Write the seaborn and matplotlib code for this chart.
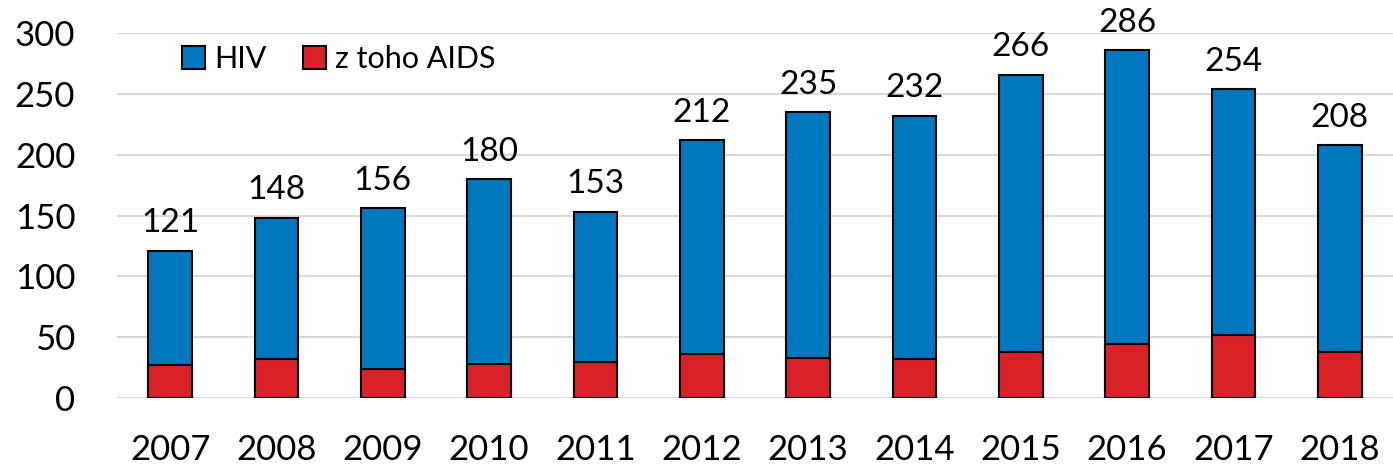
"""HIV a AIDS podle roku"""

import seaborn as sns
import pandas as pd
import matplotlib.pyplot as plt
from matplotlib.patches import Patch

YEARS = [str(y) for y in range(2007, 2019)]
HIV = [121, 148, 156, 180, 153, 212, 235, 232, 266, 286, 254, 208]
AIDS = [27, 32, 24, 28, 29, 36, 33, 32, 38, 44, 52, 38]
C_HIV = "#0078BF"
C_AIDS = "#DA2128"

sns.set_style("white")
plt.rcParams['font.family'] = ['Lato', 'DejaVu Sans']
plt.rcParams['text.color'] = "black"
plt.rcParams['xtick.color'] = "black"
plt.rcParams['ytick.color'] = "black"

df = pd.DataFrame({"year": YEARS, "hiv": HIV, "aids": AIDS})

fig = plt.figure(figsize=(13.93, 4.69), dpi=100)
ax = fig.add_axes([0.084, 0.152, 0.916, 0.777])

sns.barplot(data=df, x="year", y="hiv", color=C_HIV, width=0.41,
            edgecolor="black", linewidth=1.5, saturation=1, ax=ax, zorder=3)
sns.barplot(data=df, x="year", y="aids", color=C_AIDS, width=0.41,
            edgecolor="black", linewidth=1.5, saturation=1, ax=ax, zorder=3)

for i, v in enumerate(HIV):
    ax.annotate(str(v), (i, v), xytext=(0, 9), textcoords="offset points",
                ha="center", va="bottom", fontsize=24, color="black")

ax.set_ylim(0, 300)
ax.set_xlim(-0.5, 11.5)
ax.set_yticks(range(0, 301, 50))
ax.yaxis.grid(True, color="#D9D9D9", lw=1.5, zorder=0)
ax.set_axisbelow(True)
ax.tick_params(axis="y", labelsize=25, length=0, pad=30)
ax.tick_params(axis="x", labelsize=25, length=0, pad=26)
ax.set_xlabel("")
ax.set_ylabel("")
sns.despine(ax=ax, left=True, bottom=True)

handles = [Patch(facecolor=C_HIV, edgecolor="black", lw=1.5),
           Patch(facecolor=C_AIDS, edgecolor="black", lw=1.5)]
fig.legend(handles=handles, labels=["HIV", "z toho AIDS"], ncol=2,
           frameon=False, fontsize=22, loc="upper left",
           bbox_to_anchor=(0.122, 0.93), handlelength=0.75, handleheight=0.75,
           handletextpad=0.3, columnspacing=1.2, borderaxespad=0)

fig.savefig("out.png", dpi=100)
plt.close()
